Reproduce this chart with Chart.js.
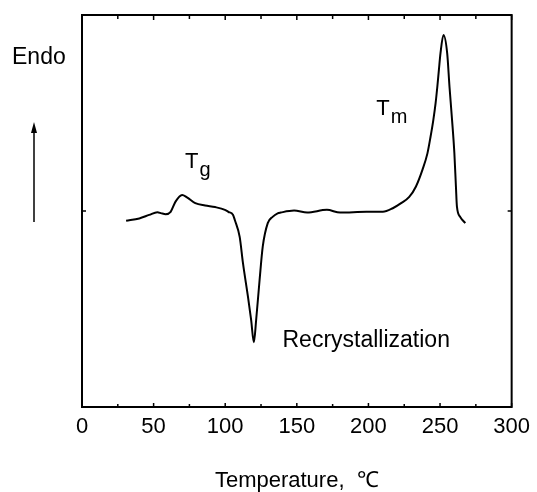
<!DOCTYPE html>
<html>
<head>
<meta charset="utf-8">
<script src="https://cdn.jsdelivr.net/npm/chart.js@4.4.1/dist/chart.umd.min.js"></script>
<style>
html,body{margin:0;padding:0;background:#fff;}
#wrap{width:537px;height:492px;}
</style>
</head>
<body>
<div id="wrap"><canvas id="c" width="537" height="492"></canvas></div>
<script>
// Temperature (°C)
const temperature = [30.8, 40, 46.9, 52.6, 55.5, 58.4, 61.9, 65.3, 69.9, 73.3, 79.1, 86, 92.9, 99.8, 102.1, 105.5, 106.7, 110.1, 112.4, 115.9, 118.1, 120, 121.6, 124, 126.2, 129.7, 133.1, 136.6, 138.8, 148.1, 157.2, 171, 180.2, 198.6, 210.1, 217.0, 222.8, 228.5, 233.1, 237.7, 241.2, 243.4, 245.3, 246.9, 248.1, 249.2, 250.3, 252.4, 255.0, 256.6, 258.4, 260.0, 261.1, 261.8, 264.1, 267.6];
// Heat flow (arbitrary units, endo up)
const heatFlow = [47.5, 48.1, 49.0, 49.7, 49.4, 49.2, 49.8, 52.4, 54.1, 53.5, 52.0, 51.4, 51.0, 50.3, 49.8, 49.0, 47.7, 43.4, 36.7, 28.1, 22.2, 16.5, 22.2, 32.4, 40.9, 46.9, 48.5, 49.4, 49.6, 50.1, 49.6, 50.3, 49.6, 49.8, 49.8, 50.7, 52.0, 53.6, 56.2, 60.5, 64.7, 69.0, 73.2, 77.5, 81.7, 86.0, 90.2, 94.9, 90.2, 81.7, 73.2, 64.8, 56.2, 51.1, 48.5, 46.9];
const xTickLabels = [0, 50, 100, 150, 200, 250, 300];
const xMinorTicks = [25, 75, 125, 175, 225, 275];
const yTicks = [50];
const xTitle = 'Temperature,  \u2103';
const annotations = [
  {main: 'T', sub: 'g', t: 72, v: 62.5, size: 22},
  {main: 'T', sub: 'm', t: 205.5, v: 76, size: 22},
  {main: 'Recrystallization', sub: '', t: 140, v: 17, size: 23}
];

const FONT = '"Liberation Sans", Arial, Helvetica, sans-serif';

const framePlugin = {
  id: 'frame',
  afterDraw(chart) {
    const {ctx, chartArea: a, scales: {x, y}} = chart;
    ctx.save();
    ctx.strokeStyle = '#000';
    ctx.lineWidth = 2;
    ctx.strokeRect(a.left, a.top, a.right - a.left, a.bottom - a.top);
    ctx.lineWidth = 1.5;
    ctx.beginPath();
    xTickLabels.forEach(v => {
      const px = x.getPixelForValue(v);
      ctx.moveTo(px, a.bottom); ctx.lineTo(px, a.bottom - 4);
      ctx.moveTo(px, a.top); ctx.lineTo(px, a.top + 5);
    });
    xMinorTicks.forEach(v => {
      const px = x.getPixelForValue(v);
      ctx.moveTo(px, a.bottom); ctx.lineTo(px, a.bottom - 3);
      ctx.moveTo(px, a.top); ctx.lineTo(px, a.top + 4);
    });
    yTicks.forEach(v => {
      const py = y.getPixelForValue(v);
      ctx.moveTo(a.left, py); ctx.lineTo(a.left + 4, py);
      ctx.moveTo(a.right, py); ctx.lineTo(a.right - 4, py);
    });
    ctx.stroke();

    // annotations
    ctx.fillStyle = '#000';
    ctx.textBaseline = 'middle';
    ctx.textAlign = 'left';
    annotations.forEach(an => {
      const px = x.getPixelForValue(an.t);
      const py = y.getPixelForValue(an.v);
      ctx.font = an.size + 'px ' + FONT;
      ctx.fillText(an.main, px, py);
      if (an.sub) {
        const w = ctx.measureText(an.main).width;
        ctx.font = (an.size - 2) + 'px ' + FONT;
        ctx.fillText(an.sub, px + w + 1, py + 8);
      }
    });

    // Endo label and arrow (outside plot, left)
    ctx.font = '23px ' + FONT;
    ctx.textAlign = 'left';
    ctx.fillText('Endo', 12, 58);
    const ax = 34;
    const yTop = 122, yBot = 222;
    ctx.lineWidth = 1.5;
    ctx.beginPath();
    ctx.moveTo(ax, yBot); ctx.lineTo(ax, yTop + 6);
    ctx.stroke();
    ctx.beginPath();
    ctx.moveTo(ax, yTop); ctx.lineTo(ax - 3, yTop + 11); ctx.lineTo(ax + 3, yTop + 11); ctx.closePath();
    ctx.fill();
    ctx.restore();
  }
};

new Chart(document.getElementById('c'), {
  type: 'line',
  data: {
    datasets: [{
      data: temperature.map((t, i) => ({x: t, y: heatFlow[i]})),
      borderColor: '#000',
      borderWidth: 2,
      pointRadius: 0,
      cubicInterpolationMode: 'monotone',
      fill: false
    }]
  },
  options: {
    responsive: false,
    animation: false,
    layout: {padding: {left: 82, right: 20, top: 15, bottom: 0}},
    plugins: {legend: {display: false}, tooltip: {enabled: false}},
    scales: {
      x: {
        type: 'linear', min: 0, max: 300,
        grid: {display: false, drawTicks: false},
        border: {display: false},
        afterFit(scale) { scale.height = 85; },
        ticks: {stepSize: 50, color: '#000', font: {family: FONT, size: 22}, padding: 7, maxRotation: 0},
        title: {display: true, text: xTitle, color: '#000', font: {family: FONT, size: 22, lineHeight: 1}, padding: {top: 20, bottom: 0}}
      },
      y: {
        type: 'linear', min: 0, max: 100, display: false
      }
    }
  },
  plugins: [framePlugin]
});
</script>
</body>
</html>
